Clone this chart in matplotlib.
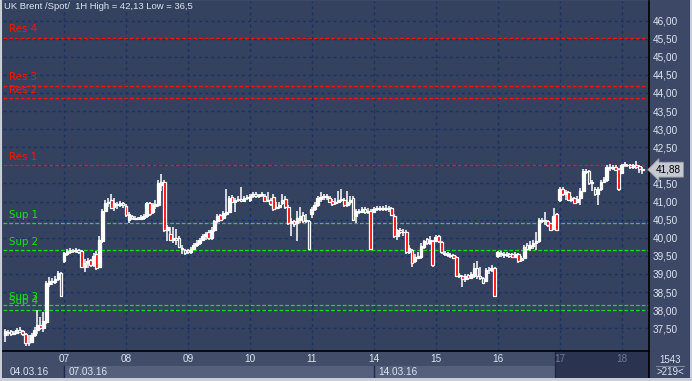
import matplotlib
matplotlib.use("Agg")
import matplotlib.pyplot as plt
from matplotlib.patches import Rectangle
from matplotlib.transforms import blended_transform_factory

# 1H candles, 04.03.16 - 18.03.16 (21 bars per trading day)
opens = [
    # 04.03
    37.30, 37.40, 37.42, 37.34, 37.38, 37.44, 37.42, 37.33, 37.08, 37.12,
    37.32, 37.45, 37.60, 37.50, 37.68, 38.72, 38.80, 38.78, 38.85, 39.02,
    # 07
    39.35, 39.55, 39.60, 39.64, 39.62, 39.66, 39.62, 39.20, 39.30, 39.38, 39.25,
    39.55, 39.18, 39.92, 40.75, 40.95, 41.05, 40.85, 40.92, 40.90, 40.95,
    # 08
    40.88, 40.48, 40.60, 40.52, 40.55, 40.52, 40.55, 40.60, 40.95, 40.70, 40.88,
    40.90, 41.45, 41.55, 40.20, 40.10, 39.95, 39.98, 39.98, 39.72, 39.65,
    # 09
    39.66, 39.60, 39.70, 39.80, 39.85, 39.95, 40.05, 40.15, 40.00, 40.20, 40.45,
    40.62, 40.55, 40.65, 40.72, 41.12, 41.00, 41.05, 41.08, 41.02, 41.10,
    # 10
    41.05, 41.15, 41.20, 41.15, 41.18, 41.15, 41.02, 41.05, 41.12, 40.82, 40.85,
    40.95, 41.08, 40.85, 40.40, 40.45, 40.40, 40.50, 40.62, 40.45, 40.45,
    # 11
    40.65, 40.80, 40.90, 41.08, 41.12, 41.12, 41.10, 41.02, 40.95, 41.00, 41.05,
    41.05, 40.90, 41.00, 41.10, 40.60, 40.75, 40.72, 40.80, 40.70, 40.75,
    # 14
    40.72, 40.80, 40.82, 40.80, 40.80, 40.82, 40.82, 40.60, 40.05, 40.20, 40.15,
    40.17, 39.60, 39.65, 39.35, 39.45, 39.48, 39.75, 39.97, 39.85, 39.90,
    # 15
    39.90, 40.05, 39.88, 39.58, 39.55, 39.52, 39.52, 39.48, 38.95, 38.95, 38.85,
    38.98, 38.90, 38.95, 39.15, 38.95, 38.88, 38.80, 39.10, 39.10, 39.15,
    # 16
    39.50, 39.55, 39.55, 39.52, 39.55, 39.55, 39.48, 39.55, 39.38, 39.45, 39.80,
    39.72, 39.78, 39.85, 39.90, 40.45, 40.50, 40.45, 40.40, 40.25, 40.65,
    # 17
    41.05, 41.35, 41.20, 41.25, 41.05, 41.10, 41.00, 41.10, 41.30, 41.82, 41.85,
    41.50, 41.35, 41.20, 41.35, 41.55, 41.60, 41.95, 41.92, 41.95, 41.90,
    # 18
    41.80, 42.00, 42.02, 42.02, 41.95, 42.00, 41.98, 41.90,
]
highs = [
    37.48, 37.45, 37.45, 37.42, 37.50, 37.52, 37.45, 37.38, 37.30, 37.38,
    37.52, 38.00, 37.80, 37.95, 38.80, 38.92, 38.90, 38.95, 39.08, 39.06,
    39.60, 39.68, 39.72, 39.70, 39.72, 39.70, 39.65, 39.40, 39.45, 39.42, 39.58,
    39.62, 40.05, 40.80, 41.05, 41.10, 41.22, 41.10, 41.00, 41.02, 41.00,
    40.92, 40.70, 40.62, 40.60, 40.58, 40.62, 40.65, 41.00, 41.00, 40.95, 41.05,
    41.60, 41.75, 41.60, 40.35, 40.30, 40.30, 40.25, 40.05, 39.80, 39.70,
    39.70, 39.75, 39.85, 39.95, 40.00, 40.10, 40.15, 40.20, 40.30, 40.50, 40.65,
    40.65, 40.75, 41.35, 41.15, 41.18, 41.10, 41.15, 41.40, 41.15, 41.18,
    41.20, 41.25, 41.25, 41.22, 41.25, 41.20, 41.25, 41.10, 41.20, 41.00, 41.00,
    41.20, 41.15, 40.90, 40.55, 40.50, 40.75, 40.85, 40.70, 40.65, 40.50,
    40.85, 41.00, 41.15, 41.25, 41.20, 41.20, 41.15, 41.08, 41.10, 41.30, 41.35,
    41.10, 41.30, 41.15, 41.15, 40.80, 40.80, 40.85, 40.85, 40.82, 40.80,
    40.85, 40.88, 40.88, 40.88, 40.90, 40.88, 40.86, 40.65, 40.25, 40.28, 40.25,
    40.20, 39.80, 39.70, 39.55, 39.60, 39.85, 39.95, 40.00, 40.05, 39.95,
    40.08, 40.08, 39.90, 39.62, 39.60, 39.58, 39.55, 39.50, 39.02, 38.98, 39.00,
    39.00, 39.05, 39.30, 39.35, 39.20, 38.92, 39.15, 39.20, 39.25, 39.18,
    39.62, 39.62, 39.60, 39.60, 39.58, 39.58, 39.60, 39.58, 39.50, 39.80, 39.85,
    39.90, 39.95, 40.15, 40.55, 40.55, 40.70, 40.50, 40.42, 40.82, 40.68,
    41.40, 41.40, 41.32, 41.28, 41.15, 41.12, 41.15, 41.38, 41.90, 41.90, 41.88,
    41.60, 41.40, 41.40, 41.60, 41.68, 42.00, 42.05, 42.00, 42.00, 41.92,
    42.05, 42.08, 42.05, 42.05, 42.05, 42.13, 42.02, 41.95,
]
lows = [
    37.12, 37.28, 37.28, 37.30, 37.35, 37.36, 37.28, 37.02, 37.02, 37.10,
    37.25, 37.35, 37.45, 37.40, 37.62, 38.65, 38.70, 38.72, 38.80, 38.35,
    39.30, 39.50, 39.55, 39.58, 39.58, 39.55, 39.15, 39.05, 39.15, 39.18, 39.20,
    39.12, 39.15, 39.85, 40.70, 40.85, 40.78, 40.75, 40.80, 40.85, 40.82,
    40.58, 40.42, 40.48, 40.48, 40.48, 40.50, 40.50, 40.55, 40.60, 40.65, 40.80,
    40.85, 41.30, 40.15, 39.90, 39.90, 39.85, 39.80, 39.72, 39.55, 39.52,
    39.55, 39.55, 39.65, 39.75, 39.80, 39.90, 39.95, 39.95, 39.95, 40.15, 40.40,
    40.45, 40.50, 40.60, 40.68, 40.95, 40.70, 41.00, 40.98, 41.00, 41.05,
    41.00, 41.10, 41.10, 41.10, 41.12, 41.00, 40.98, 40.88, 40.75, 40.78, 40.80,
    40.90, 40.80, 40.35, 40.05, 40.30, 39.90, 40.40, 40.40, 40.40, 39.65,
    40.55, 40.75, 40.85, 41.00, 41.05, 41.05, 40.95, 40.88, 40.90, 40.95, 40.98,
    40.85, 40.85, 40.90, 40.45, 40.40, 40.65, 40.68, 40.65, 40.65, 39.66,
    40.68, 40.75, 40.75, 40.75, 40.75, 40.72, 40.60, 40.00, 39.95, 40.10, 40.05,
    39.55, 39.55, 39.20, 39.30, 39.40, 39.40, 39.70, 39.80, 39.80, 39.20,
    39.88, 39.85, 39.55, 39.50, 39.48, 39.45, 39.42, 38.92, 38.88, 38.65, 38.78,
    38.82, 38.85, 38.90, 38.85, 38.82, 38.72, 38.78, 39.00, 39.05, 38.36,
    39.45, 39.48, 39.45, 39.48, 39.45, 39.45, 39.45, 39.30, 39.32, 39.42, 39.65,
    39.62, 39.70, 39.65, 39.85, 40.40, 40.35, 40.30, 40.18, 40.20, 40.18,
    41.00, 41.15, 41.05, 41.02, 41.00, 40.95, 40.95, 40.90, 41.25, 41.75, 41.45,
    41.30, 41.15, 40.90, 41.30, 41.50, 41.55, 41.85, 41.88, 41.85, 41.30,
    41.78, 41.95, 41.95, 41.90, 41.90, 41.90, 41.80, 41.75,
]
closes = [
    37.42, 37.38, 37.34, 37.38, 37.44, 37.40, 37.33, 37.08, 37.10, 37.32,
    37.45, 37.60, 37.50, 37.70, 38.75, 38.80, 38.78, 38.85, 39.02, 38.38,
    39.57, 39.62, 39.65, 39.62, 39.66, 39.60, 39.20, 39.30, 39.36, 39.25, 39.50,
    39.15, 39.95, 40.75, 40.95, 41.00, 40.82, 40.95, 40.90, 40.95, 40.90,
    40.62, 40.65, 40.55, 40.55, 40.52, 40.56, 40.60, 40.95, 40.65, 40.90, 40.92,
    41.50, 41.55, 40.20, 40.30, 39.95, 40.00, 39.95, 39.75, 39.68, 39.58,
    39.60, 39.70, 39.80, 39.85, 39.95, 40.05, 40.10, 40.00, 40.20, 40.45, 40.60,
    40.50, 40.68, 40.72, 41.10, 41.00, 41.05, 41.08, 41.02, 41.10, 41.12,
    41.15, 41.20, 41.15, 41.18, 41.20, 41.02, 41.05, 40.92, 40.80, 40.85, 40.90,
    41.05, 40.85, 40.40, 40.45, 40.38, 40.55, 40.60, 40.45, 40.50, 39.68,
    40.80, 40.90, 41.10, 41.12, 41.15, 41.14, 41.00, 40.92, 41.00, 41.05, 41.08,
    40.90, 40.98, 41.05, 40.50, 40.75, 40.72, 40.78, 40.70, 40.75, 39.68,
    40.80, 40.82, 40.80, 40.82, 40.83, 40.80, 40.62, 40.05, 40.20, 40.15, 40.17,
    39.60, 39.72, 39.30, 39.48, 39.50, 39.78, 39.90, 39.85, 39.95, 39.25,
    40.02, 39.90, 39.60, 39.55, 39.52, 39.50, 39.45, 38.95, 38.98, 38.85, 38.95,
    38.88, 39.00, 39.15, 38.95, 38.88, 38.76, 39.10, 39.12, 39.15, 38.38,
    39.60, 39.55, 39.52, 39.55, 39.50, 39.47, 39.55, 39.35, 39.45, 39.75, 39.70,
    39.80, 39.85, 39.90, 40.50, 40.50, 40.45, 40.35, 40.20, 40.60, 40.22,
    41.35, 41.20, 41.25, 41.05, 41.10, 40.97, 41.08, 41.30, 41.85, 41.85, 41.50,
    41.55, 41.20, 41.35, 41.55, 41.62, 41.95, 41.92, 41.95, 41.88, 41.35,
    42.02, 42.03, 42.00, 41.95, 42.00, 41.95, 41.90, 41.88,
]

day_labels = ["07", "08", "09", "10", "11", "14", "15", "16", "17", "18"]
day_starts = [20, 41, 62, 83, 104, 125, 146, 167, 188, 209]
week_labels = ["04.03.16", "07.03.16", "14.03.16"]
week_starts = [0, 20, 125]

level_names = ["Res 4", "Res 3", "Res 2", "Res 1", "Sup 1", "Sup 2", "Sup 3", "Sup 4"]
level_values = [45.52, 44.19, 43.85, 42.00, 40.40, 39.65, 38.13, 38.00]

y_ticks = [37.5, 38.0, 38.5, 39.0, 39.5, 40.0, 40.5, 41.0, 41.5, 42.0,
           42.5, 43.0, 43.5, 44.0, 44.5, 45.0, 45.5, 46.0]
last_price = 41.88
title = "UK Brent /Spot/  1H High = 42,13 Low = 36,5"

BG = "#35425f"
GRID = "#1a3264"
TXT = "#dde5f0"
W, H = 692, 381

fig = plt.figure(figsize=(W / 100, H / 100), dpi=100, facecolor="#3c4865")


def px_rect(x0, y0, x1, y1):
    # image pixel box (top-left origin) -> figure fraction rect
    return [x0 / W, (H - y1) / H, (x1 - x0) / W, (y1 - y0) / H]


# light outer frame
for x0, y0, x1, y1 in [(0, 0, 2, H), (0, 378, W, H), (690, 0, W, H)]:
    r = px_rect(x0, y0, x1, y1)
    fig.patches.append(Rectangle((r[0], r[1]), r[2], r[3], transform=fig.transFigure,
                                 facecolor="#c9cdd5", edgecolor="none", zorder=0))

ax = fig.add_axes(px_rect(3, 1, 649, 351))
ax.set_facecolor(BG)
n = len(closes)
ax.set_xlim(-0.68, 218.3)
ax.set_ylim(36.87, 46.54)

# grid
for y in y_ticks:
    ax.axhline(y, color=GRID, lw=1.0, ls=(0, (2.2, 2.2)), zorder=1)
for x in day_starts:
    ax.axvline(x, color=GRID, lw=1.0, ls=(0, (2.2, 2.2)), zorder=1)

# support / resistance
tr = blended_transform_factory(ax.transAxes, ax.transData)
for name, val in zip(level_names, level_values):
    col = "#ff1010" if name.startswith("Res") else "#18e018"
    ax.axhline(val, color=col, lw=0.9, ls=(0, (3, 1.6)), zorder=2)
    ax.annotate(name, (0.009, val), xycoords=tr, xytext=(0, 2.6),
                textcoords="offset points", color=col, fontsize=7.4,
                family="DejaVu Sans", va="bottom", ha="left", zorder=3)

# candles
xs = list(range(n))
ax.vlines(xs, lows, highs, color="white", lw=1.1, zorder=4)
for i in xs:
    o, c = opens[i], closes[i]
    face = "#ff0000" if c < o else "white"
    ax.bar(i, max(abs(c - o), 0.015), bottom=min(o, c), width=0.9,
           color=face, edgecolor="white", lw=0.9, zorder=5)

ax.text(0.002, 0.983, title, transform=ax.transAxes, color=TXT, fontsize=6.8,
        family="Liberation Sans", va="center", ha="left")

# right price axis
ax.yaxis.tick_right()
ax.set_yticks(y_ticks)
ax.set_yticklabels([f"{v:.2f}".replace(".", ",") for v in y_ticks],
                   color=TXT, fontsize=7.2, family="Liberation Sans")
ax.tick_params(axis="y", length=0, pad=2.5)
ax.set_xticks([])
for s in ["top", "left"]:
    ax.spines[s].set_visible(False)
for s in ["right", "bottom"]:
    ax.spines[s].set_color("black")
    ax.spines[s].set_linewidth(1.2)

ax.annotate(f"{last_price:.2f}".replace(".", ","), (1.0, last_price), xycoords=tr,
            xytext=(5, 0), textcoords="offset points", color="black", fontsize=7.2,
            family="Liberation Sans", va="center", ha="left", annotation_clip=False,
            zorder=10,
            bbox=dict(boxstyle="larrow,pad=0.25", fc="#c5c9d1", ec="#8d929c", lw=0.6))

# bottom date strip
axb = fig.add_axes(px_rect(3, 352, 649, 378))
axb.set_xlim(ax.get_xlim())
axb.set_ylim(0, 1)
axb.set_facecolor("#414d69")
dark_from = 186.4
axb.axvspan(week_starts[1], dark_from, ymin=0, ymax=0.48, color="#55617c", lw=0)
axb.axvspan(dark_from, 218.3, color="#2a3450", lw=0)
axb.axvline(dark_from, color="#1e2740", lw=1.0)
for x in week_starts[1:]:
    axb.axvline(x, ymax=0.48, color="#1c2a4c", lw=1.0)
for lab, x in zip(day_labels, day_starts):
    col = "#6c7893" if x > dark_from else TXT
    axb.text(x, 0.72, lab, color=col, fontsize=7.2, family="Liberation Sans",
             ha="center", va="center")
for lab, x in zip(week_labels, week_starts):
    axb.text(x + 1.6, 0.24, lab, color=TXT, fontsize=7.2, family="Liberation Sans",
             ha="left", va="center")
axb.set_xticks([])
axb.set_yticks([])
for s in ["top", "left", "bottom"]:
    axb.spines[s].set_visible(False)
axb.spines["right"].set_color("black")
axb.spines["right"].set_linewidth(1.2)

# bar counter box
fig.text(670 / W, (H - 360) / H, "1543", color=TXT, fontsize=7.0,
         family="Liberation Sans", ha="center", va="center")
fig.text(670 / W, (H - 372) / H, ">219<", color=TXT, fontsize=7.0,
         family="Liberation Sans", ha="center", va="center")
fig.add_artist(plt.Line2D([656 / W, 684 / W], [(H - 366) / H] * 2,
                          transform=fig.transFigure, color="#7d869a", lw=0.8))

fig.savefig("out.png", dpi=100, facecolor=fig.get_facecolor())
